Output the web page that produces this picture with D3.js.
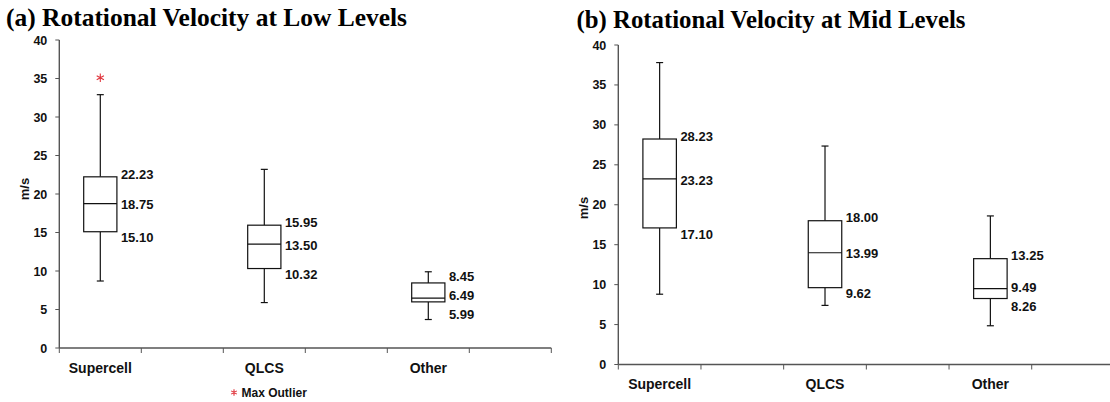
<!DOCTYPE html>
<html>
<head>
<meta charset="utf-8">
<script src="https://cdn.jsdelivr.net/npm/d3@7"></script>
<style>
  body { margin: 0; background: #fff; }
  svg { display: block; }
  .num { font-family: "Liberation Sans", Arial, sans-serif; font-weight: bold; fill: #111; }
  .title { font-family: "Liberation Serif", "Times New Roman", serif; font-weight: bold; fill: #000; }
</style>
</head>
<body>
<div id="chart"></div>
<script>
const categories = ["Supercell", "QLCS", "Other"];
const yTicks = [0, 5, 10, 15, 20, 25, 30, 35, 40];

// (a) low levels
const lowMin = [8.7, 5.9, 3.7];
const lowQ1 = [15.10, 10.32, 5.99];
const lowMedian = [18.75, 13.50, 6.49];
const lowQ3 = [22.23, 15.95, 8.45];
const lowMax = [32.9, 23.2, 9.9];
const lowOutlier = [35.1, null, null];

// (b) mid levels
const midMin = [8.8, 7.4, 4.85];
const midQ1 = [17.10, 9.62, 8.26];
const midMedian = [23.23, 13.99, 9.49];
const midQ3 = [28.23, 18.00, 13.25];
const midMax = [37.8, 27.35, 18.6];
const midOutlier = [null, null, null];

const width = 1110, height = 402;

const svg = d3.select("#chart")
  .append("svg")
  .attr("width", width)
  .attr("height", height);

// each category owns two slots on the axis, box drawn in the first one
const slots = categories.flatMap(c => [c, c + "_gap"]);

function drawPanel(opts) {
  const g = svg.append("g");

  const x = d3.scaleBand().domain(slots).range([opts.left, opts.right]).padding(0);
  const y = d3.scaleLinear().domain([0, 40]).range([opts.bottom, opts.top]);

  const rows = categories.map((c, i) => ({
    cat: c,
    min: opts.min[i], q1: opts.q1[i], med: opts.median[i], q3: opts.q3[i], max: opts.max[i],
    out: opts.outlier[i]
  }));

  // y axis
  g.append("line")
    .attr("x1", opts.left).attr("x2", opts.left)
    .attr("y1", y(40)).attr("y2", y(0))
    .attr("stroke", "#555").attr("stroke-width", 1.4);

  g.selectAll(".ytick")
    .data(yTicks)
    .join("line")
      .attr("x1", opts.left - 4).attr("x2", opts.left)
      .attr("y1", d => y(d)).attr("y2", d => y(d))
      .attr("stroke", "#555").attr("stroke-width", 1);

  g.selectAll(".ylab")
    .data(yTicks)
    .join("text")
      .attr("class", "num")
      .attr("x", opts.left - 12)
      .attr("y", d => y(d))
      .attr("dy", "0.36em")
      .attr("text-anchor", "end")
      .style("font-size", "12.5px")
      .text(d => d);

  g.append("text")
    .attr("class", "num")
    .attr("transform", `translate(${opts.left - 35}, ${opts.unitY}) rotate(-90)`)
    .attr("dy", "0.36em")
    .attr("text-anchor", "middle")
    .style("font-size", "13px")
    .text("m/s");

  // x axis
  g.append("line")
    .attr("x1", opts.left).attr("x2", opts.right)
    .attr("y1", y(0)).attr("y2", y(0))
    .attr("stroke", "#555").attr("stroke-width", 1.4);

  const xTicks = slots.map(s => x(s)).concat([opts.right]);
  g.selectAll(".xtick")
    .data(xTicks)
    .join("line")
      .attr("x1", d => d).attr("x2", d => d)
      .attr("y1", y(0)).attr("y2", y(0) + 5)
      .attr("stroke", "#555").attr("stroke-width", 1);

  g.selectAll(".xlab")
    .data(categories)
    .join("text")
      .attr("class", "num")
      .attr("x", d => x(d) + x.bandwidth() / 2)
      .attr("y", y(0) + 24.5)
      .attr("text-anchor", "middle")
      .style("font-size", "14px")
      .text(d => d);

  const boxW = x.bandwidth() * 0.405;
  const capW = 7;

  const box = g.selectAll(".box")
    .data(rows)
    .join("g")
      .attr("transform", d => `translate(${x(d.cat) + x.bandwidth() / 2},0)`);

  // whiskers
  box.append("line")
    .attr("x1", 0).attr("x2", 0)
    .attr("y1", d => y(d.max)).attr("y2", d => y(d.q3))
    .attr("stroke", "#111").attr("stroke-width", 1.2);
  box.append("line")
    .attr("x1", 0).attr("x2", 0)
    .attr("y1", d => y(d.q1)).attr("y2", d => y(d.min))
    .attr("stroke", "#111").attr("stroke-width", 1.2);
  box.append("line")
    .attr("x1", -capW / 2).attr("x2", capW / 2)
    .attr("y1", d => y(d.max)).attr("y2", d => y(d.max))
    .attr("stroke", "#111").attr("stroke-width", 1.2);
  box.append("line")
    .attr("x1", -capW / 2).attr("x2", capW / 2)
    .attr("y1", d => y(d.min)).attr("y2", d => y(d.min))
    .attr("stroke", "#111").attr("stroke-width", 1.2);

  box.append("rect")
    .attr("x", -boxW / 2)
    .attr("width", boxW)
    .attr("y", d => y(d.q3))
    .attr("height", d => y(d.q1) - y(d.q3))
    .attr("fill", "#fff")
    .attr("stroke", "#111").attr("stroke-width", 1.2);

  box.append("line")
    .attr("x1", -boxW / 2).attr("x2", boxW / 2)
    .attr("y1", d => y(d.med)).attr("y2", d => y(d.med))
    .attr("stroke", "#111").attr("stroke-width", 1.2);

  // outliers
  box.filter(d => d.out != null)
    .append("path")
      .attr("transform", d => `translate(0,${y(d.out)})`)
      .attr("d", d3.symbol(d3.symbolAsterisk, 48))
      .attr("fill", "none")
      .attr("stroke", "#e0343c")
      .attr("stroke-width", 1.1);

  // value labels: nudge q3 up, q1 down, then spread apart if too close
  box.each(function(d) {
    const labels = [
      { v: d.q3, py: y(d.q3) - 3 },
      { v: d.med, py: y(d.med) + 1 },
      { v: d.q1, py: y(d.q1) + 6 }
    ];
    const gap = 19;
    for (let k = 0; k < 20; k++) {
      for (let j = 0; j < 2; j++) {
        const diff = labels[j + 1].py - labels[j].py;
        if (diff < gap) {
          const push = (gap - diff) / 2;
          labels[j].py -= push;
          labels[j + 1].py += push;
        }
      }
    }
    d3.select(this).selectAll(".val")
      .data(labels)
      .join("text")
        .attr("class", "num")
        .attr("x", boxW / 2 + 4)
        .attr("y", l => l.py)
        .attr("dy", "0.36em")
        .style("font-size", "13px")
        .text(l => l.v.toFixed(2));
  });

  g.append("text")
    .attr("class", "title")
    .attr("x", opts.titleX)
    .attr("y", opts.titleY)
    .attr("textLength", opts.titleW)
    .attr("lengthAdjust", "spacingAndGlyphs")
    .style("font-size", "25px")
    .text(opts.title);

  return { g, x, y };
}

const low = drawPanel({
  left: 59.3, right: 551.3, top: 40, bottom: 348, unitY: 189,
  min: lowMin, q1: lowQ1, median: lowMedian, q3: lowQ3, max: lowMax, outlier: lowOutlier,
  title: "(a) Rotational Velocity at Low Levels", titleX: 6, titleY: 26, titleW: 401
});

drawPanel({
  left: 618.3, right: 1114.4, top: 45, bottom: 364.5, unitY: 208,
  min: midMin, q1: midQ1, median: midMedian, q3: midQ3, max: midMax, outlier: midOutlier,
  title: "(b) Rotational Velocity at Mid Levels", titleX: 576.5, titleY: 28, titleW: 389
});

// legend under panel (a)
const legend = low.g.append("g").attr("transform", "translate(234, 392.5)");
legend.append("path")
  .attr("d", d3.symbol(d3.symbolAsterisk, 30))
  .attr("fill", "none")
  .attr("stroke", "#e0343c")
  .attr("stroke-width", 1.1);
legend.append("text")
  .attr("class", "num")
  .attr("x", 7.5)
  .attr("dy", "0.36em")
  .style("font-size", "12px")
  .text("Max Outlier");
</script>
</body>
</html>
